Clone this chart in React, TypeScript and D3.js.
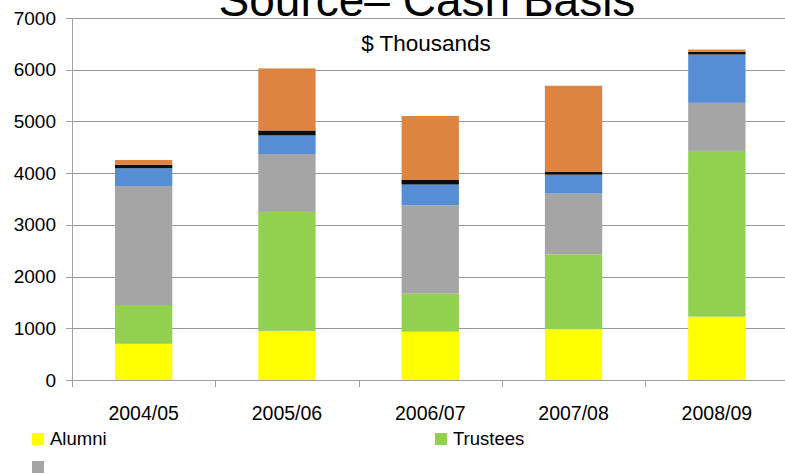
import React from "react";
import * as d3 from "d3";

const categories = ["2004/05", "2005/06", "2006/07", "2007/08", "2008/09"];
const alumni = [700, 950, 935, 980, 1225];
const trustees = [750, 2300, 735, 1450, 3205];
const graySeries = [2300, 1120, 1710, 1175, 930];
const blueSeries = [345, 360, 400, 365, 935];
const blackSeries = [65, 95, 95, 60, 50];
const orangeSeries = [95, 1200, 1230, 1660, 45];
const yTicks = [0, 1000, 2000, 3000, 4000, 5000, 6000, 7000];

const seriesList = [
  { key: "alumni", name: "Alumni", values: alumni, color: "#FFFF00" },
  { key: "trustees", name: "Trustees", values: trustees, color: "#92D050" },
  { key: "gray", name: "", values: graySeries, color: "#A5A5A5" },
  { key: "blue", name: "", values: blueSeries, color: "#558ED5" },
  { key: "black", name: "", values: blackSeries, color: "#0D0D0D" },
  { key: "orange", name: "", values: orangeSeries, color: "#DD8441" },
];

const W = 785;
const H = 475;
const FONT = "'Liberation Sans', Arial, sans-serif";

export default function App() {
  const x = d3
    .scaleBand<string>()
    .domain(categories)
    .range([72, 788.5])
    .paddingInner(0.6)
    .paddingOuter(0.3);
  const y = d3.scaleLinear().domain([0, 7000]).range([380, 18]);

  const table = categories.map((c, i) => {
    const row: Record<string, any> = { cat: c };
    seriesList.forEach((s) => (row[s.key] = s.values[i]));
    return row;
  });
  const stack = d3.stack<any>().keys(seriesList.map((s) => s.key));
  const stacked = stack(table);

  const step = x.step();
  const x0 = 72;
  const boundaries = d3.range(categories.length + 1).map((i) => x0 + i * step);

  return (
    <svg
      width={W}
      height={H}
      style={{ position: "absolute", left: 0, top: 0, background: "#fff" }}
      fontFamily={FONT}
    >
      <rect x={0} y={0} width={W} height={H} fill="#fff" />
      {/* gridlines */}
      {yTicks.slice(1).map((t) => (
        <line
          key={t}
          x1={72}
          x2={W}
          y1={Math.round(y(t)) + 0.5}
          y2={Math.round(y(t)) + 0.5}
          stroke="#989898"
          strokeWidth={1}
        />
      ))}
      {/* bars */}
      {stacked.map((layer, li) => (
        <g key={seriesList[li].key} fill={seriesList[li].color}>
          {layer.map((d, i) => (
            <rect
              key={i}
              x={x(categories[i])}
              width={x.bandwidth()}
              y={y(d[1])}
              height={y(d[0]) - y(d[1])}
            />
          ))}
        </g>
      ))}
      {/* y axis */}
      <line x1={72.5} x2={72.5} y1={18} y2={380} stroke="#a0a0a0" />
      {yTicks.map((t) => (
        <g key={t}>
          <line
            x1={66}
            x2={72}
            y1={Math.round(y(t)) + 0.5}
            y2={Math.round(y(t)) + 0.5}
            stroke="#a0a0a0"
          />
          <text
            x={56}
            y={y(t) + 6.5}
            textAnchor="end"
            fontSize={19}
            fill="#000"
          >
            {t}
          </text>
        </g>
      ))}
      {/* x axis */}
      <line x1={72} x2={W} y1={380.5} y2={380.5} stroke="#a0a0a0" />
      {boundaries.map((bx, i) => (
        <line
          key={i}
          x1={Math.round(bx) + 0.5}
          x2={Math.round(bx) + 0.5}
          y1={380}
          y2={387}
          stroke="#a0a0a0"
        />
      ))}
      {categories.map((c) => (
        <text
          key={c}
          x={(x(c) as number) + x.bandwidth() / 2}
          y={420}
          textAnchor="middle"
          fontSize={19.5}
          fill="#000"
        >
          {c}
        </text>
      ))}
      {/* titles */}
      <text x={427} y={16} textAnchor="middle" fontSize={46} fill="#000">
        Source– Cash Basis
      </text>
      <text x={426} y={51} textAnchor="middle" fontSize={22.5} fill="#000">
        $ Thousands
      </text>
      {/* legend */}
      <rect x={32} y={433} width={12} height={12} fill={seriesList[0].color} />
      <text x={50} y={444.5} fontSize={18.5} fill="#000">
        {seriesList[0].name}
      </text>
      <rect x={435} y={433} width={12} height={12} fill={seriesList[1].color} />
      <text x={453} y={444.5} fontSize={18.5} fill="#000">
        {seriesList[1].name}
      </text>
      <rect x={32} y={461} width={12} height={12} fill={seriesList[2].color} />
      <text x={50} y={472.5} fontSize={18.5} fill="#000">
        {seriesList[2].name}
      </text>
    </svg>
  );
}
